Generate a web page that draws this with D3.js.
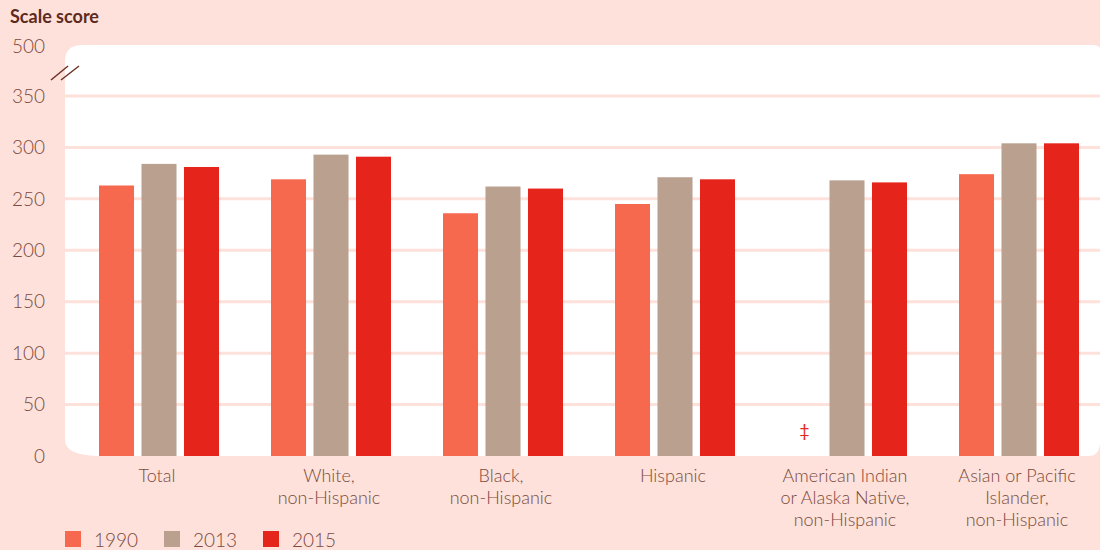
<!DOCTYPE html>
<html lang="en">
<head>
  <meta charset="utf-8">
  <script src="https://d3js.org/d3.v7.min.js"></script>
  <style>
    body { margin: 0; background: #fde1da; }
    svg text { font-family: "Lato", sans-serif; }
  </style>
</head>
<body>
<svg id="chart" width="1100" height="550"></svg>
<script>
  // Chart data
  const groups = [
    ["Total"],
    ["White,", "non-Hispanic"],
    ["Black,", "non-Hispanic"],
    ["Hispanic"],
    ["American Indian", "or Alaska Native,", "non-Hispanic"],
    ["Asian or Pacific", "Islander,", "non-Hispanic"]
  ];
  const years = ["1990", "2013", "2015"];
  const scores1990 = [263, 269, 236, 245, null, 274];
  const scores2013 = [284, 293, 262, 271, 268, 304];
  const scores2015 = [281, 291, 260, 269, 266, 304];
  const yTicks = [0, 50, 100, 150, 200, 250, 300, 350, 500];
  const gridTicks = [50, 100, 150, 200, 250, 300, 350];

  const colors = ["#f7694f", "#b9a08f", "#e5251b"];
  const textColor = "#7b4a3e";

  const svg = d3.select("#chart");

  // broken axis: 0-350 linear, then jump to 500
  const y = d3.scaleLinear().domain([0, 350, 500]).range([456, 96, 46]);

  const x0 = d3.scaleBand()
    .domain(d3.range(groups.length))
    .range([73, 1105]);

  const x1 = d3.scaleBand()
    .domain(years)
    .range([26, 146])
    .paddingInner(0.176);

  // white plot panel with rounded corners
  const pLeft = 65, pRight = 1100, pTop = y(500) - 1, pBottom = y(0);
  svg.append("path")
    .attr("d", `M${pLeft},${pTop + 16} Q${pLeft},${pTop} ${pLeft + 18},${pTop}
      L${pRight - 8},${pTop} Q${pRight},${pTop} ${pRight},${pTop + 4}
      L${pRight},${pBottom - 14} Q${pRight},${pBottom} ${pRight - 12},${pBottom}
      L${pLeft + 36},${pBottom} Q${pLeft},${pBottom} ${pLeft},${pBottom - 16} Z`)
    .attr("fill", "#ffffff");

  // grid lines
  svg.selectAll(".grid")
    .data(gridTicks)
    .join("line")
    .attr("x1", pLeft)
    .attr("x2", pRight)
    .attr("y1", d => y(d))
    .attr("y2", d => y(d))
    .attr("stroke", "#fde1da")
    .attr("stroke-width", 3);

  // y tick labels
  svg.selectAll(".ytick")
    .data(yTicks)
    .join("text")
    .attr("x", 45)
    .attr("y", d => y(d))
    .attr("dy", "0.35em")
    .attr("text-anchor", "end")
    .attr("font-size", 19)
    .attr("font-weight", 300)
    .attr("fill", textColor)
    .text(d => d);

  // axis break marks
  const brk = svg.append("g").attr("stroke", "#6b3326").attr("stroke-width", 1.5);
  brk.append("line").attr("x1", 51).attr("y1", 80).attr("x2", 68).attr("y2", 66);
  brk.append("line").attr("x1", 61).attr("y1", 80).attr("x2", 79).attr("y2", 66);

  // title
  svg.append("text")
    .attr("x", 10)
    .attr("y", 23)
    .attr("font-size", 18)
    .attr("font-weight", 700)
    .attr("fill", "#5e2a1d")
    .text("Scale score");

  // bars
  const series = [scores1990, scores2013, scores2015];
  const barData = [];
  groups.forEach((g, i) => {
    years.forEach((yr, j) => {
      barData.push({ group: i, year: yr, value: series[j][i], color: colors[j] });
    });
  });

  svg.selectAll(".bar")
    .data(barData.filter(d => d.value != null))
    .join("rect")
    .attr("x", d => x0(d.group) + x1(d.year))
    .attr("y", d => y(d.value))
    .attr("width", x1.bandwidth())
    .attr("height", d => y(0) - y(d.value))
    .attr("fill", d => d.color);

  // reporting standards not met
  svg.selectAll(".missing")
    .data(barData.filter(d => d.value == null))
    .join("text")
    .attr("x", d => x0(d.group) + x1(d.year) + x1.bandwidth() / 2)
    .attr("y", 437)
    .attr("text-anchor", "middle")
    .attr("font-size", 18)
    .attr("fill", "#e5251b")
    .text("‡");

  // category labels
  const lab = svg.selectAll(".xlab")
    .data(groups)
    .join("text")
    .attr("x", (d, i) => x0(i) + x0.bandwidth() / 2 - 2)
    .attr("y", 482)
    .attr("text-anchor", "middle")
    .attr("font-size", 18)
    .attr("font-weight", 300)
    .attr("fill", textColor);
  lab.selectAll("tspan")
    .data(d => d)
    .join("tspan")
    .attr("x", function() { return d3.select(this.parentNode).attr("x"); })
    .attr("dy", (d, i) => i === 0 ? 0 : 22)
    .text(d => d);

  // legend
  const legX = [65, 164, 263];
  const leg = svg.selectAll(".leg")
    .data(years)
    .join("g")
    .attr("transform", (d, i) => `translate(${legX[i]},531)`);
  leg.append("rect")
    .attr("width", 16)
    .attr("height", 16)
    .attr("fill", (d, i) => colors[i]);
  leg.append("text")
    .attr("x", 29)
    .attr("y", 9)
    .attr("dy", "0.38em")
    .attr("font-size", 19)
    .attr("font-weight", 300)
    .attr("fill", textColor)
    .text(d => d);
</script>
</body>
</html>
